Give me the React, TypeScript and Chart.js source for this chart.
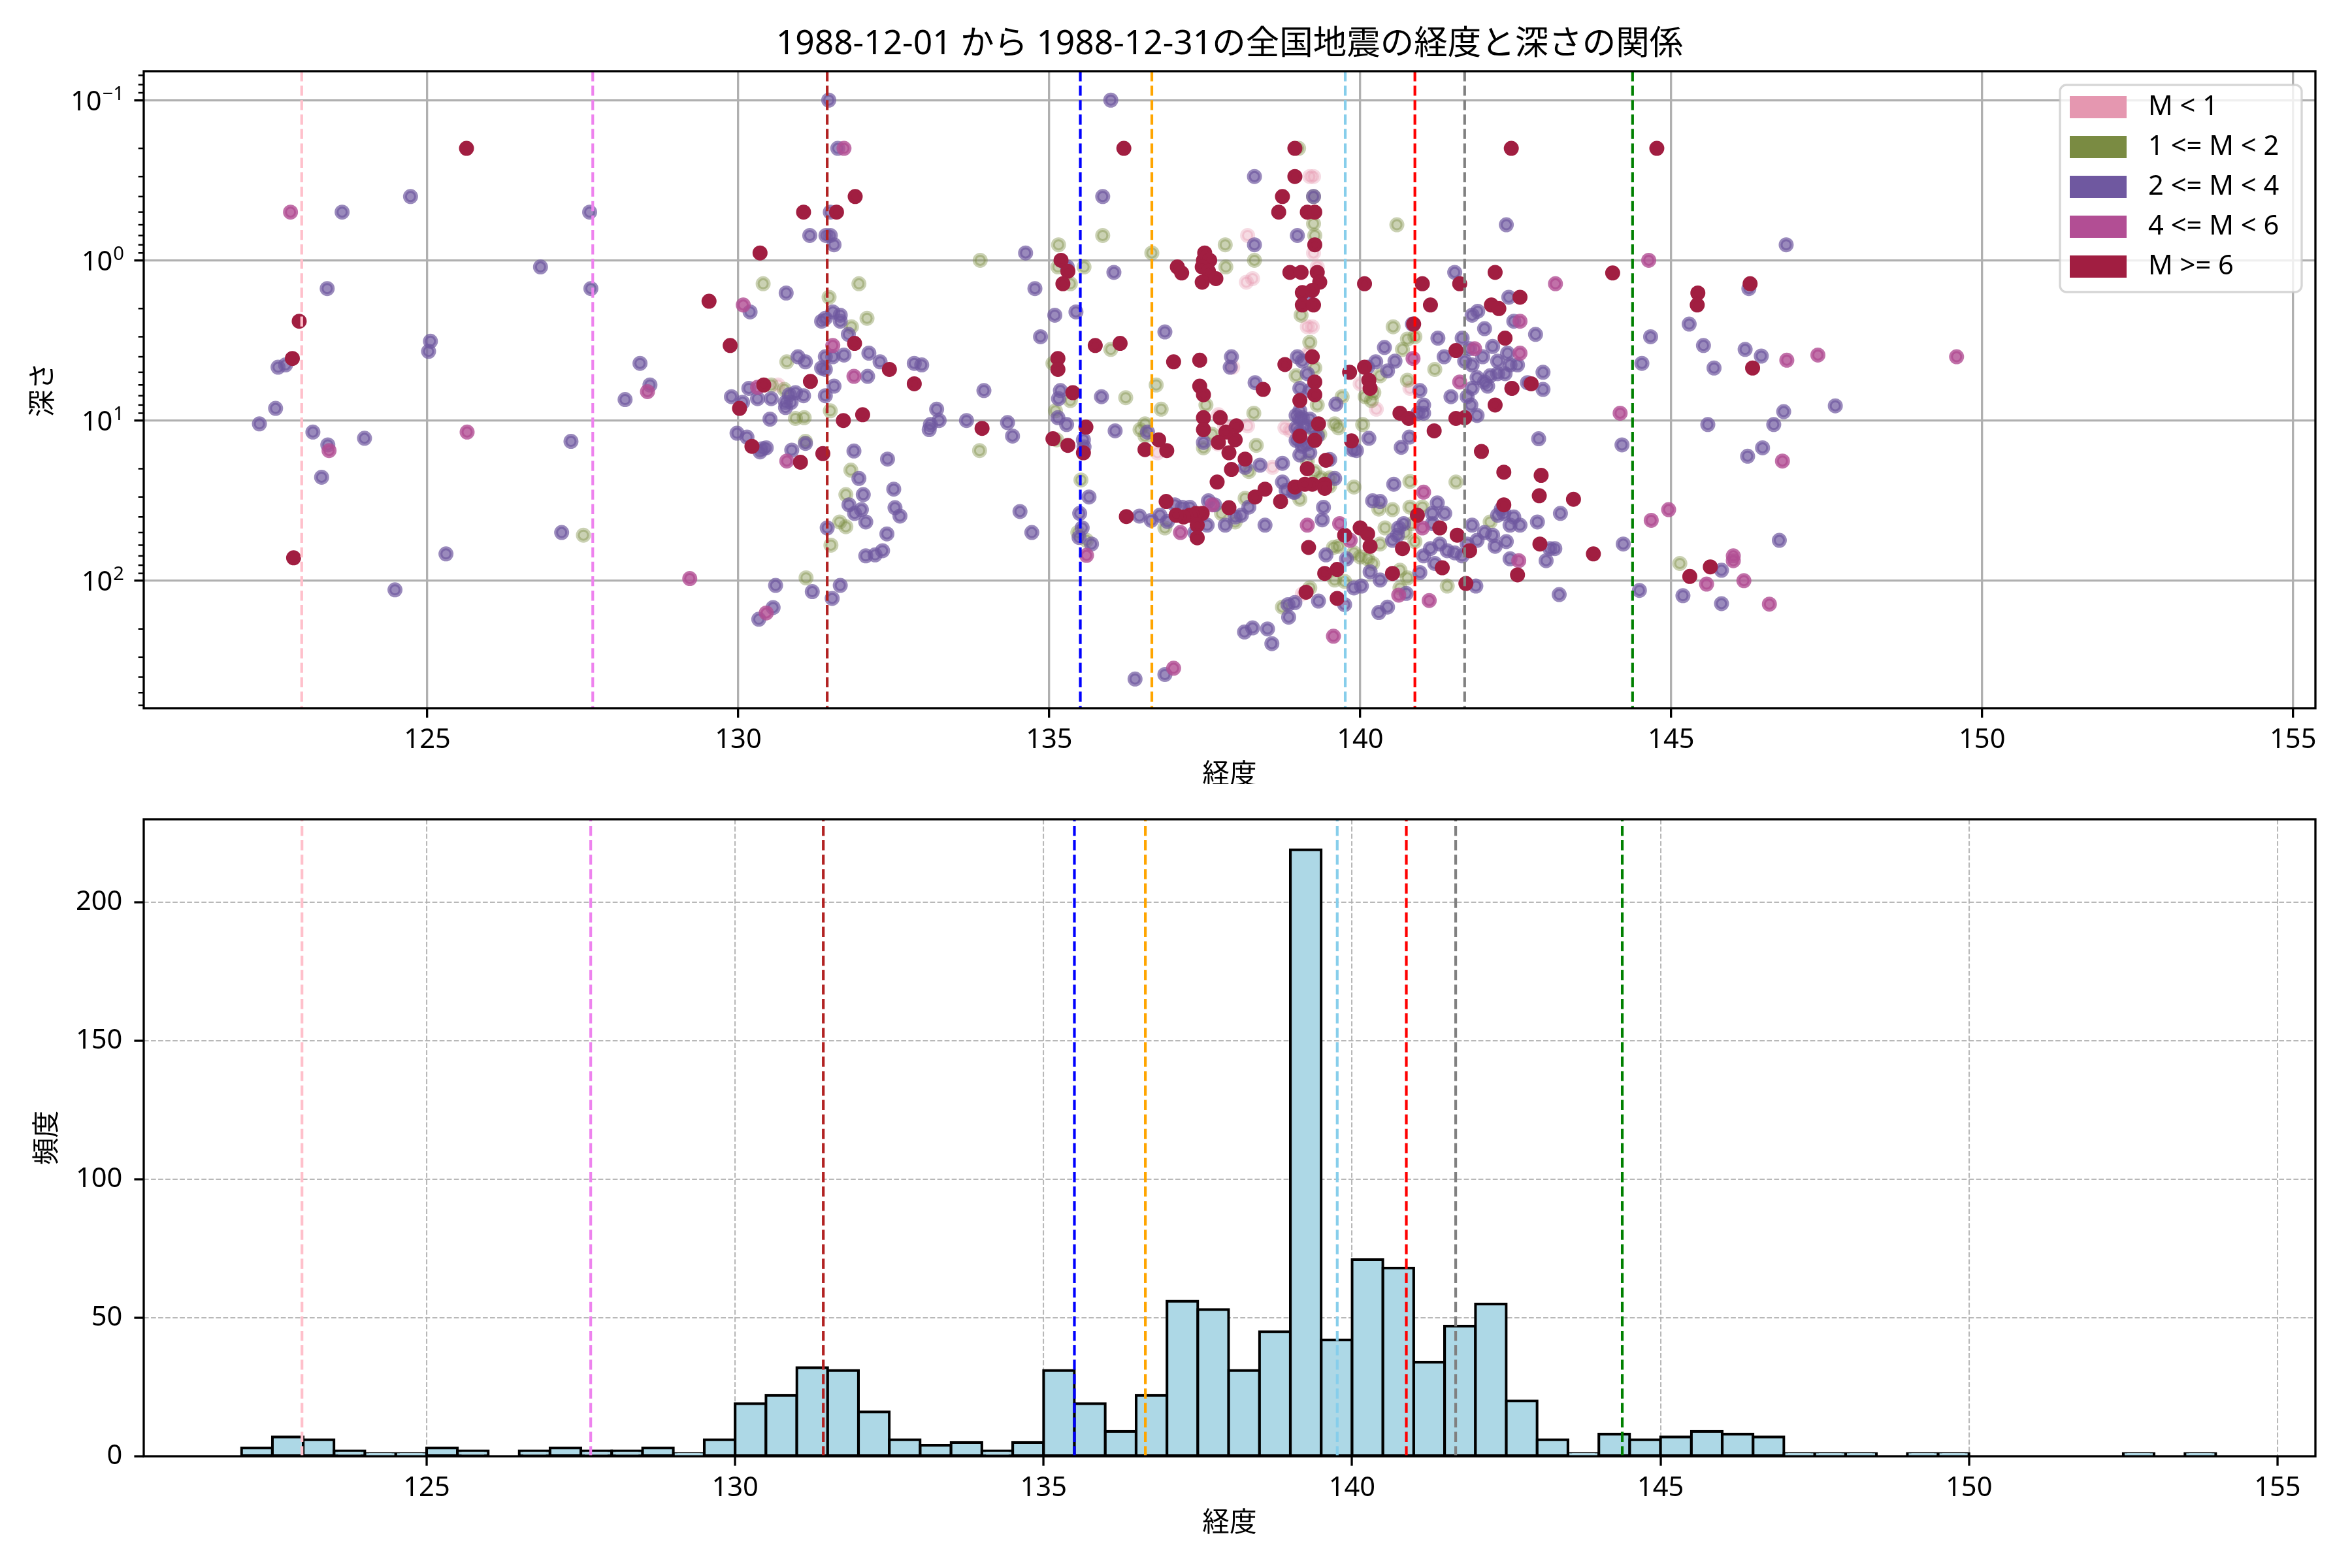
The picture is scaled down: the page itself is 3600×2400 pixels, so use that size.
import React, { useEffect, useRef } from 'react';
import { Chart, registerables } from 'chart.js';

Chart.register(...registerables);

const FONT = "'Noto Sans', 'Noto Sans CJK JP', 'DejaVu Sans', sans-serif";
const PT = 300 / 72;

// ---------- texts ----------
const TITLE = '1988-12-01 から 1988-12-31の全国地震の経度と深さの関係';
const X_LABEL = '経度';
const Y_LABEL_SCATTER = '深さ';
const Y_LABEL_HIST = '頻度';

// ---------- magnitude classes ----------
const MAG_LABELS = ['M < 1', '1 <= M < 2', '2 <= M < 4', '4 <= M < 6', 'M >= 6'];
const MAG_COLORS = ['#e597b0', '#7a8b42', '#6f58a0', '#b24e94', '#a11e41'];
const MAG_ALPHAS = [0.35, 0.4, 0.7, 0.8, 1];

// [longitude, depth km]
const PTS_M0: [number, number][] = [
  [130.64, 6.0], [138.19, 0.7], [138.17, 1.37], [138.27, 1.3], [139.19, 0.3], [139.25, 0.3], [139.25, 0.9],
  [139.31, 1.1], [139.15, 2.6], [139.23, 2.6], [139.17, 3.8], [137.95, 4.65], [138.59, 19.6], [137.82, 10.8],
  [138.19, 10.8], [137.71, 14], [136.74, 15.9], [140.26, 8.5], [140.0, 5.9], [140.8, 6.3], [139.07, 121],
  [138.79, 11.1], [138.87, 11.5], [137.72, 9.2],
];

const PTS_M1: [number, number][] = [
  [127.51, 52], [130.4, 1.4], [131.94, 1.4], [131.46, 1.7], [133.89, 1.0], [133.88, 15.4], [135.15, 0.8],
  [135.14, 1.1], [135.34, 1.4], [135.56, 1.1], [135.86, 0.7], [135.06, 4.4], [135.34, 7.5], [135.1, 8.7],
  [135.12, 13.2], [135.51, 23.5], [135.46, 50], [135.6, 56], [131.82, 2.6], [132.07, 2.3], [130.78, 4.3],
  [130.53, 6.0], [130.74, 6.4], [131.48, 8.7], [130.92, 9.7], [131.06, 9.6], [131.08, 13.5], [131.81, 20.4],
  [131.73, 29], [131.63, 43], [131.73, 46], [131.49, 60], [131.09, 96],
  [135.99, 3.6], [136.65, 0.9], [137.83, 0.8], [137.84, 1.1], [138.3, 1.0], [139.01, 0.2], [139.25, 0.4],
  [139.25, 0.59], [139.27, 0.7], [139.05, 2.2], [139.19, 3.25], [139.27, 4.7], [138.97, 5.25], [139.31, 8.0],
  [139.27, 11.8], [139.35, 12.2], [139.15, 17.9], [139.27, 20.8], [139.37, 22.8], [139.51, 22.8], [139.03, 31],
  [138.15, 30.6], [136.86, 46.8], [137.77, 38], [137.99, 43], [138.21, 20.8], [138.33, 14.3], [137.62, 12.2],
  [137.52, 8.0], [138.29, 9.0], [137.48, 14.8], [136.72, 6.0], [136.23, 7.2], [136.8, 8.5], [136.54, 10.5],
  [136.46, 11.4], [136.54, 12.5], [139.71, 7.1], [139.59, 10.5], [139.65, 11.1], [140.59, 0.6], [140.53, 2.6],
  [140.76, 3.1], [140.68, 3.6], [140.32, 5.25], [140.22, 6.7], [140.08, 7.1], [140.18, 7.5], [140.76, 5.6],
  [140.88, 3.0], [141.2, 4.8], [140.04, 10.6], [140.8, 24], [141.54, 24.2], [139.9, 26], [140.3, 35.7],
  [140.52, 36], [141.0, 34.7], [140.8, 34.7], [142.09, 43], [140.72, 50], [140.84, 44], [140.88, 57],
  [140.4, 46.8], [140.32, 59], [140.12, 73], [140.2, 78], [140.0, 71], [140.64, 86], [140.76, 96],
  [140.64, 111], [141.4, 108], [139.9, 67], [139.65, 61], [139.57, 62], [139.59, 99], [139.75, 101],
  [139.19, 111], [139.51, 25.6], [138.75, 146], [145.14, 78],
];

const PTS_M2: [number, number][] = [
  [123.63, 0.5], [124.73, 0.4], [127.61, 0.5], [126.82, 1.1], [123.39, 1.5], [127.63, 1.5], [122.6, 4.65],
  [122.72, 4.5], [125.05, 3.2], [125.02, 3.7], [122.56, 8.4], [122.3, 10.5], [123.16, 11.8], [123.4, 14.2],
  [123.99, 12.9], [123.3, 22.6], [127.31, 13.5], [128.42, 4.4], [128.58, 6.0], [128.18, 7.4], [127.16, 50],
  [125.3, 68], [124.48, 114],
  [131.455, 0.1], [131.6, 0.2], [131.48, 0.5], [131.15, 0.7], [131.41, 0.7], [131.48, 0.7], [131.54, 0.8],
  [134.62, 0.9], [130.77, 1.6], [130.19, 2.1], [134.77, 1.5], [135.29, 1.1], [135.86, 0.4], [135.09, 2.2],
  [135.43, 2.1], [134.86, 3.0], [135.18, 6.5], [135.15, 7.3], [135.84, 7.1], [135.14, 9.6], [135.28, 10.6],
  [135.55, 13.2], [135.56, 14.6], [135.64, 30], [135.49, 38], [135.53, 46.8], [135.48, 53.7], [135.68, 59],
  [133.95, 6.5], [134.33, 10.3], [134.41, 12.5], [133.67, 10], [133.19, 8.5], [133.23, 10], [133.09, 10.6],
  [133.07, 11.4], [134.53, 37], [134.72, 50], [132.83, 4.4], [132.95, 4.5], [132.28, 4.3], [132.1, 3.8],
  [132.08, 5.3], [131.7, 3.9], [131.77, 2.9], [131.4, 2.3], [131.34, 2.4], [131.52, 2.1], [131.64, 2.2],
  [131.64, 2.4], [131.4, 4.0], [131.52, 4.0], [131.34, 4.7], [131.4, 4.8], [131.54, 6.1], [131.4, 7.0],
  [130.96, 4.0], [131.08, 4.3], [130.17, 6.3], [130.82, 6.9], [130.92, 6.7], [131.05, 7.0], [129.89, 7.1],
  [130.31, 7.3], [130.53, 7.3], [130.76, 7.7], [130.85, 7.7], [130.76, 8.3], [130.07, 7.7], [130.51, 9.8],
  [129.98, 12.0], [130.14, 12.7], [130.35, 15.7], [130.45, 14.8], [130.39, 15], [130.86, 15.3], [131.08, 13.9],
  [131.86, 15.5], [132.4, 17.4], [131.94, 23], [132.01, 29], [132.5, 26.8], [132.52, 35], [132.6, 39.5],
  [131.78, 33.6], [131.87, 38], [131.98, 36], [132.05, 43], [131.43, 46.8], [132.39, 51], [132.32, 65],
  [132.2, 69], [132.05, 70], [130.6, 107], [131.19, 117], [131.64, 107], [131.51, 129], [130.56, 147],
  [130.33, 174],
  [135.99, 0.1], [136.04, 1.19], [138.3, 0.8], [138.3, 0.3], [139.25, 0.4], [138.99, 0.7], [139.17, 1.8],
  [138.99, 4.0], [139.07, 4.25], [139.15, 5.1], [139.03, 6.3], [139.19, 6.5], [139.03, 8.7], [139.03, 9.8],
  [139.11, 10.8], [139.03, 11.8], [139.03, 13.3], [139.15, 14], [139.51, 17.5], [138.81, 27.3], [138.95, 28],
  [138.21, 34.7], [138.09, 39], [137.99, 40], [137.83, 45], [137.66, 33.6], [137.56, 31.7], [137.34, 50],
  [137.26, 34.8], [137.14, 34.8], [137.02, 33.6], [137.54, 45], [136.9, 42.7], [136.78, 39], [136.64, 42],
  [136.45, 39.5], [138.47, 45], [138.15, 19.6], [138.39, 19], [138.75, 18.5], [137.48, 13.7], [137.93, 4.0],
  [137.91, 4.65], [138.31, 5.8], [136.86, 2.8], [136.06, 11.6], [136.58, 11.8], [139.61, 7.9], [140.39, 3.5],
  [140.25, 4.3], [140.12, 4.65], [140.56, 4.26], [140.44, 4.9], [140.84, 2.5], [141.25, 3.06], [141.35, 4.0],
  [141.52, 1.19], [141.64, 3.06], [141.8, 2.2], [141.89, 2.08], [142.0, 2.67], [141.76, 3.56], [141.68, 4.26],
  [141.8, 4.5], [141.97, 4.0], [142.13, 3.45], [142.21, 4.26], [142.09, 5.25], [142.0, 5.75], [141.88, 5.4],
  [142.21, 5.1], [141.8, 6.3], [142.05, 6.1], [141.46, 7.1], [141.72, 7.1], [141.78, 8.0], [141.88, 9.3],
  [140.96, 6.5], [141.02, 8.0], [141.02, 9.0], [140.93, 9.0], [140.79, 12.7], [140.66, 14.7], [140.14, 12.9],
  [139.88, 15.2], [139.94, 15.4], [140.54, 25], [140.2, 31.7], [140.32, 32], [141.24, 32.7], [141.36, 38],
  [141.16, 38], [142.27, 35.7], [142.21, 39], [141.8, 45], [142.0, 50], [142.13, 52], [142.17, 61],
  [141.88, 56], [141.72, 59], [141.64, 70], [141.52, 67], [141.4, 65], [141.16, 44], [140.7, 44],
  [140.62, 46.8], [140.6, 52], [140.52, 56], [141.13, 63], [141.02, 70], [141.2, 78], [141.28, 59],
  [140.16, 88], [140.32, 99], [140.96, 89], [140.74, 120], [140.3, 158], [140.44, 146], [141.86, 108],
  [139.78, 73], [139.45, 69], [139.9, 111], [140.02, 108], [139.75, 141], [139.33, 134], [139.41, 34.8],
  [139.39, 41.7], [139.59, 23], [138.93, 28], [138.75, 24.2], [138.84, 141], [138.85, 169], [138.95, 137],
  [138.14, 209], [138.27, 197], [138.51, 200], [138.58, 247], [136.38, 411], [136.86, 385],
  [138.97, 9.3], [138.97, 11.1], [138.97, 13.3], [139.07, 9.6], [139.19, 9.8], [139.23, 11.1], [139.31, 12.5],
  [139.07, 14.5], [139.19, 15.9], [139.03, 16.4],
  [142.35, 0.6], [146.85, 0.8], [142.39, 1.7], [142.47, 2.4], [142.82, 2.9], [142.37, 3.8], [142.41, 4.5],
  [142.53, 4.5], [142.33, 5.1], [142.69, 5.8], [142.94, 5.0], [142.94, 6.4], [142.44, 6.3], [144.67, 3.0],
  [144.53, 4.4], [145.29, 2.5], [145.52, 3.4], [145.69, 4.7], [146.19, 3.6], [146.45, 3.96], [146.25, 1.5],
  [146.81, 8.8], [147.64, 8.1], [145.59, 10.6], [146.65, 10.6], [146.47, 14.8], [146.23, 16.7], [144.21, 14.2],
  [142.87, 13], [143.22, 38], [142.85, 43], [142.47, 40], [142.57, 45], [142.41, 45], [142.31, 38],
  [143.13, 63], [143.05, 63], [142.99, 75], [142.35, 57], [142.41, 73], [144.23, 59], [143.2, 122],
  [144.49, 115], [145.81, 86], [145.19, 124], [145.81, 139], [146.74, 56],
];

const PTS_M4: [number, number][] = [
  [122.8, 0.5], [123.42, 15.4], [125.64, 11.8], [128.54, 6.6], [129.22, 97],
  [131.7, 0.2], [130.08, 1.9], [131.86, 5.3], [131.52, 3.4], [130.31, 6.2], [130.78, 17.9], [130.45, 159],
  [135.6, 69.5],
  [137.62, 33.6], [137.11, 50], [140.85, 4.1], [141.84, 3.56], [141.6, 5.75], [141.02, 28], [141.0, 46.8],
  [140.62, 123], [141.11, 133], [139.84, 56], [139.67, 44], [139.15, 45], [139.57, 222], [137.0, 352],
  [144.64, 1.0], [143.14, 1.4], [142.57, 2.4], [142.57, 3.8], [146.86, 4.2], [147.36, 3.9], [146.79, 17.9],
  [144.18, 9.0], [142.55, 75], [144.68, 42], [144.96, 36], [145.57, 105], [146.0, 70], [146.0, 75],
  [146.17, 100], [146.58, 140], [149.59, 4.0],
];

const PTS_M6: [number, number][] = [
  [125.63, 0.2], [122.94, 2.4], [122.83, 4.1], [122.85, 72], [129.53, 1.8], [129.87, 3.4],
  [131.88, 0.4], [131.05, 0.5], [131.58, 0.5], [130.35, 0.9], [135.19, 1.0], [135.3, 1.17], [135.22, 1.4],
  [135.74, 3.4], [135.14, 4.1], [135.14, 4.8], [135.38, 6.7], [135.59, 11], [135.06, 13], [135.3, 14.3],
  [135.55, 15.9], [133.92, 11.2], [132.83, 5.9], [132.43, 4.8], [131.87, 3.3], [131.69, 10], [132.0, 9.2],
  [131.36, 16.1], [131.16, 5.7], [130.41, 6.0], [130.02, 8.4], [130.22, 14.5], [131.0, 18.2],
  [136.2, 0.2], [137.06, 1.1], [137.13, 1.2], [137.5, 0.9], [137.48, 1.0], [137.58, 1.0], [137.46, 1.1],
  [137.56, 1.17], [137.46, 1.37], [137.68, 1.3], [138.95, 0.2], [138.95, 0.3], [138.75, 0.4], [138.69, 0.5],
  [139.15, 0.5], [139.27, 0.5], [139.27, 0.8], [138.87, 1.19], [139.05, 1.19], [139.31, 1.19], [139.35, 1.37],
  [139.07, 1.59], [139.23, 1.54], [139.07, 1.9], [139.25, 1.9], [139.23, 4.0], [139.27, 5.75], [139.27, 6.9],
  [139.03, 7.5], [139.33, 10.5], [139.03, 12.5], [139.27, 13.3], [139.15, 20], [139.45, 17.7], [139.43, 25],
  [139.23, 25], [138.95, 26], [138.72, 32], [138.47, 26.8], [138.31, 30], [137.89, 35], [137.46, 38],
  [137.36, 38], [137.26, 39], [137.16, 40], [137.04, 39], [137.38, 45], [137.38, 54], [136.88, 32],
  [136.24, 39.8], [138.15, 17.4], [137.93, 20.2], [137.7, 24.2], [137.89, 15.9], [137.99, 13.2], [138.01, 10.8],
  [137.75, 9.6], [137.48, 9.6], [137.48, 11.4], [137.84, 11.8], [137.72, 13.7], [137.42, 6.1], [137.48, 6.9],
  [137.42, 4.2], [137.0, 4.3], [138.44, 6.4], [138.79, 4.47], [136.14, 3.3], [136.54, 15.2], [136.76, 13.2],
  [136.89, 15.4], [139.83, 5.0], [140.07, 1.4], [140.07, 4.65], [140.14, 5.6], [140.16, 6.3], [140.86, 2.5],
  [141.0, 1.4], [141.13, 1.9], [141.54, 3.66], [141.6, 1.4], [142.11, 1.9], [142.17, 1.19], [142.23, 2.0],
  [142.17, 8.0], [141.54, 9.7], [141.68, 9.6], [140.64, 9.0], [140.78, 9.7], [141.19, 11.6], [139.86, 13.4],
  [141.95, 15.6], [141.56, 52], [141.76, 65], [141.28, 46.8], [140.92, 39], [140.68, 63], [141.32, 83],
  [140.12, 51], [140.0, 46.8], [140.16, 61], [140.52, 90], [141.7, 104], [139.75, 52], [139.43, 90],
  [139.63, 85], [139.63, 129], [139.13, 118], [139.17, 62], [139.43, 26.5], [139.11, 25],
  [142.43, 0.2], [144.77, 0.2], [144.06, 1.2], [142.57, 1.7], [142.33, 3.06], [142.75, 5.9], [142.44, 6.3],
  [146.31, 4.7], [145.43, 1.6], [145.42, 1.9], [146.27, 1.4], [142.31, 21], [142.91, 22], [142.88, 29.5],
  [143.43, 31], [142.31, 33.6], [142.89, 59], [142.53, 92], [143.75, 68], [145.3, 94], [145.63, 82],
];

const MAG_POINTS = [PTS_M0, PTS_M1, PTS_M2, PTS_M4, PTS_M6];

// ---------- reference longitudes ----------
const CITY_LONS = [122.98, 127.66, 131.43, 135.5, 136.65, 139.76, 140.88, 141.68, 144.38];
const CITY_COLORS = ['pink', 'violet', 'firebrick', 'blue', 'orange', 'skyblue', 'red', 'gray', 'green'];

// ---------- ticks ----------
const LON_TICKS = [125, 130, 135, 140, 145, 150, 155];
const DEPTH_TICKS = [0.1, 1, 10, 100];
const DEPTH_TICK_BASE = '10';
const DEPTH_TICK_EXPONENTS = ['−1', '0', '1', '2'];
const COUNT_TICKS = [0, 50, 100, 150, 200];

// ---------- histogram ----------
const HIST_START = 122;
const HIST_BIN = 0.5;
const HIST_COUNTS = [
  3, 7, 6, 2, 1, 1, 3, 2, 0, 2, 3, 2, 2, 3, 1, 6,
  19, 22, 32, 31, 16, 6, 4, 5, 2, 5, 31, 19, 9, 22, 56, 53,
  31, 45, 219, 42, 71, 68, 34, 47, 55, 20, 6, 1, 8, 6, 7, 9,
  8, 7, 1, 1, 1, 0, 1, 1, 0, 0, 0, 0, 0, 1, 0, 1,
];

// ---------- axis ranges ----------
const SCATTER_LON_RANGE = [120.44, 155.36];
const DEPTH_RANGE = [0.066, 625];
const HIST_LON_RANGE = [120.415, 155.615];
const COUNT_RANGE = [0, 230];

// ---------- layout (px) ----------
const W = 3600;
const H = 1200;
const PLOT_LEFT = 220;
const PLOT_RIGHT = 3544;
const SC_TOP = 109;
const SC_BOTTOM = 1084;
const HI_TOP = 54;
const HI_BOTTOM = 1029;

function rgba(hex: string, a: number) {
  const n = parseInt(hex.slice(1), 16);
  return `rgba(${(n >> 16) & 255},${(n >> 8) & 255},${n & 255},${a})`;
}

function cityLineDatasets(yMin: number, yMax: number) {
  return CITY_LONS.map((lon, i) => ({
    type: 'line' as const,
    data: [{ x: lon, y: yMin }, { x: lon, y: yMax }],
    borderColor: CITY_COLORS[i],
    backgroundColor: CITY_COLORS[i],
    borderWidth: 1 * PT,
    borderDash: [3.7 * PT, 1.6 * PT],
    pointRadius: 0,
    pointHoverRadius: 0,
    fill: false,
    order: 0,
  }));
}

function tickFont() {
  return { family: FONT, size: 10 * PT };
}

const scatterDecor = {
  id: 'scatterDecor',
  afterDatasetsDraw(chart: any) {
    const { ctx, chartArea: ca } = chart;
    ctx.save();
    ctx.strokeStyle = '#000';
    ctx.lineWidth = 0.8 * PT;
    ctx.strokeRect(ca.left, ca.top, ca.right - ca.left, ca.bottom - ca.top);
    ctx.restore();
  },
  afterDraw(chart: any) {
    const { ctx, chartArea: ca } = chart;
    const y = chart.scales.y;
    ctx.save();
    // minor ticks
    ctx.strokeStyle = '#000';
    ctx.lineWidth = 0.6 * PT;
    for (let e = -2; e <= 3; e++) {
      for (let m = 2; m <= 9; m++) {
        const v = m * Math.pow(10, e);
        if (v < DEPTH_RANGE[0] || v > DEPTH_RANGE[1]) continue;
        const py = y.getPixelForValue(v);
        ctx.beginPath();
        ctx.moveTo(ca.left - 2 * PT, py);
        ctx.lineTo(ca.left, py);
        ctx.stroke();
      }
    }
    // major tick labels with superscripts
    ctx.fillStyle = '#000';
    ctx.textBaseline = 'alphabetic';
    ctx.textAlign = 'left';
    const big = `${10 * PT}px ${FONT}`;
    const small = `${7 * PT}px ${FONT}`;
    DEPTH_TICKS.forEach((v, i) => {
      const py = y.getPixelForValue(v);
      ctx.font = big;
      const wb = ctx.measureText(DEPTH_TICK_BASE).width;
      ctx.font = small;
      const we = ctx.measureText(DEPTH_TICK_EXPONENTS[i]).width;
      const x0 = 190 - wb - we - 1;
      ctx.font = big;
      ctx.fillText(DEPTH_TICK_BASE, x0, py + 15.3);
      ctx.font = small;
      ctx.fillText(DEPTH_TICK_EXPONENTS[i], x0 + wb + 1, py - 0.5);
    });
    // title
    ctx.font = `51.5px ${FONT}`;
    ctx.textAlign = 'center';
    ctx.fillText(TITLE, (ca.left + ca.right) / 2, 83);
    // axis labels
    ctx.font = `${10 * PT}px ${FONT}`;
    ctx.textBaseline = 'middle';
    ctx.fillText(X_LABEL, (ca.left + ca.right) / 2, ca.bottom + 103.5);
    ctx.save();
    ctx.translate(67, (ca.top + ca.bottom) / 2);
    ctx.rotate(-Math.PI / 2);
    ctx.fillText(Y_LABEL_SCATTER, 0, 0);
    ctx.restore();
    // legend
    const lx = 3153, ly = 130, lw = 370, lh = 317;
    ctx.beginPath();
    if (ctx.roundRect) ctx.roundRect(lx, ly, lw, lh, 10);
    else ctx.rect(lx, ly, lw, lh);
    ctx.fillStyle = 'rgba(255,255,255,0.8)';
    ctx.fill();
    ctx.strokeStyle = 'rgba(204,204,204,0.8)';
    ctx.lineWidth = 0.8 * PT;
    ctx.stroke();
    ctx.textAlign = 'left';
    ctx.textBaseline = 'middle';
    ctx.font = `${10 * PT}px ${FONT}`;
    MAG_LABELS.forEach((lab, i) => {
      const cy = 164 + i * 61;
      ctx.fillStyle = MAG_COLORS[i];
      ctx.fillRect(3168, cy - 17, 87, 34);
      ctx.fillStyle = '#000';
      ctx.fillText(lab, 3288, cy);
    });
    ctx.restore();
  },
};

const histDecor = {
  id: 'histDecor',
  afterDatasetsDraw(chart: any) {
    const { ctx, chartArea: ca } = chart;
    ctx.save();
    ctx.strokeStyle = '#000';
    ctx.lineWidth = 0.8 * PT;
    ctx.strokeRect(ca.left, ca.top, ca.right - ca.left, ca.bottom - ca.top);
    ctx.restore();
  },
  afterDraw(chart: any) {
    const { ctx, chartArea: ca } = chart;
    ctx.save();
    ctx.fillStyle = '#000';
    ctx.font = `${10 * PT}px ${FONT}`;
    ctx.textAlign = 'center';
    ctx.textBaseline = 'middle';
    ctx.fillText(X_LABEL, (ca.left + ca.right) / 2, ca.bottom + 103.5);
    ctx.translate(73, (ca.top + ca.bottom) / 2);
    ctx.rotate(-Math.PI / 2);
    ctx.fillText(Y_LABEL_HIST, 0, 0);
    ctx.restore();
  },
};

function ScatterChart() {
  const ref = useRef<HTMLCanvasElement>(null);
  useEffect(() => {
    const scatterSets = MAG_POINTS.map((pts, i) => ({
      type: 'scatter' as const,
      label: MAG_LABELS[i],
      data: pts.map(([x, y]) => ({ x, y })),
      backgroundColor: rgba(MAG_COLORS[i], MAG_ALPHAS[i]),
      borderColor: rgba(MAG_COLORS[i], MAG_ALPHAS[i]),
      pointRadius: 8.5,
      pointHoverRadius: 8.5,
      pointBorderWidth: 6,
      borderWidth: 6,
      order: 10 - i,
    }));
    const chart = new Chart(ref.current as HTMLCanvasElement, {
      type: 'scatter',
      data: { datasets: [...scatterSets, ...cityLineDatasets(DEPTH_RANGE[0], DEPTH_RANGE[1])] as any },
      options: {
        responsive: false,
        animation: false,
        devicePixelRatio: 1,
        layout: { padding: { left: 0, right: W - PLOT_RIGHT, top: SC_TOP, bottom: 0 } },
        plugins: { legend: { display: false }, tooltip: { enabled: false }, title: { display: false } },
        scales: {
          x: {
            type: 'linear',
            min: SCATTER_LON_RANGE[0],
            max: SCATTER_LON_RANGE[1],
            afterBuildTicks: (s: any) => { s.ticks = LON_TICKS.map((v) => ({ value: v })); },
            afterFit: (s: any) => { s.height = H - SC_BOTTOM; },
            grid: { color: '#b0b0b0', lineWidth: 0.8 * PT, tickLength: 3.5 * PT, tickColor: '#000', tickWidth: 0.8 * PT },
            border: { display: false },
            ticks: { font: tickFont(), color: '#000', padding: 9.5, maxRotation: 0, autoSkip: false, callback: (v: any) => String(v) },
          },
          y: {
            type: 'logarithmic',
            reverse: true,
            min: DEPTH_RANGE[0],
            max: DEPTH_RANGE[1],
            afterBuildTicks: (s: any) => { s.ticks = DEPTH_TICKS.map((v) => ({ value: v })); },
            afterFit: (s: any) => { s.width = PLOT_LEFT; },
            grid: { color: '#b0b0b0', lineWidth: 0.8 * PT, tickLength: 3.5 * PT, tickColor: '#000', tickWidth: 0.8 * PT },
            border: { display: false },
            ticks: { display: false },
          },
        },
      } as any,
      plugins: [scatterDecor],
    });
    return () => chart.destroy();
  }, []);
  return <canvas ref={ref} width={W} height={H} style={{ display: 'block', width: W, height: H }} />;
}

function HistChart() {
  const ref = useRef<HTMLCanvasElement>(null);
  useEffect(() => {
    const bars = HIST_COUNTS.map((c, i) => ({ x: HIST_START + HIST_BIN * (i + 0.5), y: c === 0 ? null : c }));
    const gridDash = [3.7 * 0.5 * PT, 1.6 * 0.5 * PT];
    const chart = new Chart(ref.current as HTMLCanvasElement, {
      type: 'bar',
      data: {
        datasets: [
          {
            type: 'bar',
            data: bars,
            backgroundColor: '#add8e6',
            borderColor: '#000',
            borderWidth: 1 * PT,
            inflateAmount: 0.5 * PT,
            borderSkipped: false,
            barPercentage: 1,
            categoryPercentage: 1,
            order: 1,
          },
          ...cityLineDatasets(COUNT_RANGE[0], COUNT_RANGE[1]),
        ] as any,
      },
      options: {
        responsive: false,
        animation: false,
        devicePixelRatio: 1,
        layout: { padding: { left: 0, right: W - PLOT_RIGHT, top: HI_TOP, bottom: 0 } },
        plugins: { legend: { display: false }, tooltip: { enabled: false }, title: { display: false } },
        scales: {
          x: {
            type: 'linear',
            offset: false,
            min: HIST_LON_RANGE[0],
            max: HIST_LON_RANGE[1],
            afterBuildTicks: (s: any) => { s.ticks = LON_TICKS.map((v) => ({ value: v })); },
            afterFit: (s: any) => { s.height = H - HI_BOTTOM; },
            grid: { offset: false, color: 'rgba(176,176,176,0.9)', lineWidth: 0.5 * PT, tickLength: 3.5 * PT, tickColor: '#000', tickWidth: 0.8 * PT },
            border: { display: false, dash: gridDash },
            ticks: { font: tickFont(), color: '#000', padding: 9.5, maxRotation: 0, autoSkip: false, callback: (v: any) => String(v) },
          },
          y: {
            type: 'linear',
            min: COUNT_RANGE[0],
            max: COUNT_RANGE[1],
            afterBuildTicks: (s: any) => { s.ticks = COUNT_TICKS.map((v) => ({ value: v })); },
            afterFit: (s: any) => { s.width = PLOT_LEFT; },
            grid: { color: 'rgba(176,176,176,0.9)', lineWidth: 0.5 * PT, tickLength: 3.5 * PT, tickColor: '#000', tickWidth: 0.8 * PT },
            border: { display: false, dash: gridDash },
            ticks: { font: tickFont(), color: '#000', padding: 18, callback: (v: any) => String(v) },
          },
        },
      } as any,
      plugins: [histDecor],
    });
    return () => chart.destroy();
  }, []);
  return <canvas ref={ref} width={W} height={H} style={{ display: 'block', width: W, height: H }} />;
}

export default function App() {
  return (
    <div style={{ position: 'absolute', left: 0, top: 0, width: W, height: 2 * H, background: '#fff' }}>
      <ScatterChart />
      <HistChart />
    </div>
  );
}
